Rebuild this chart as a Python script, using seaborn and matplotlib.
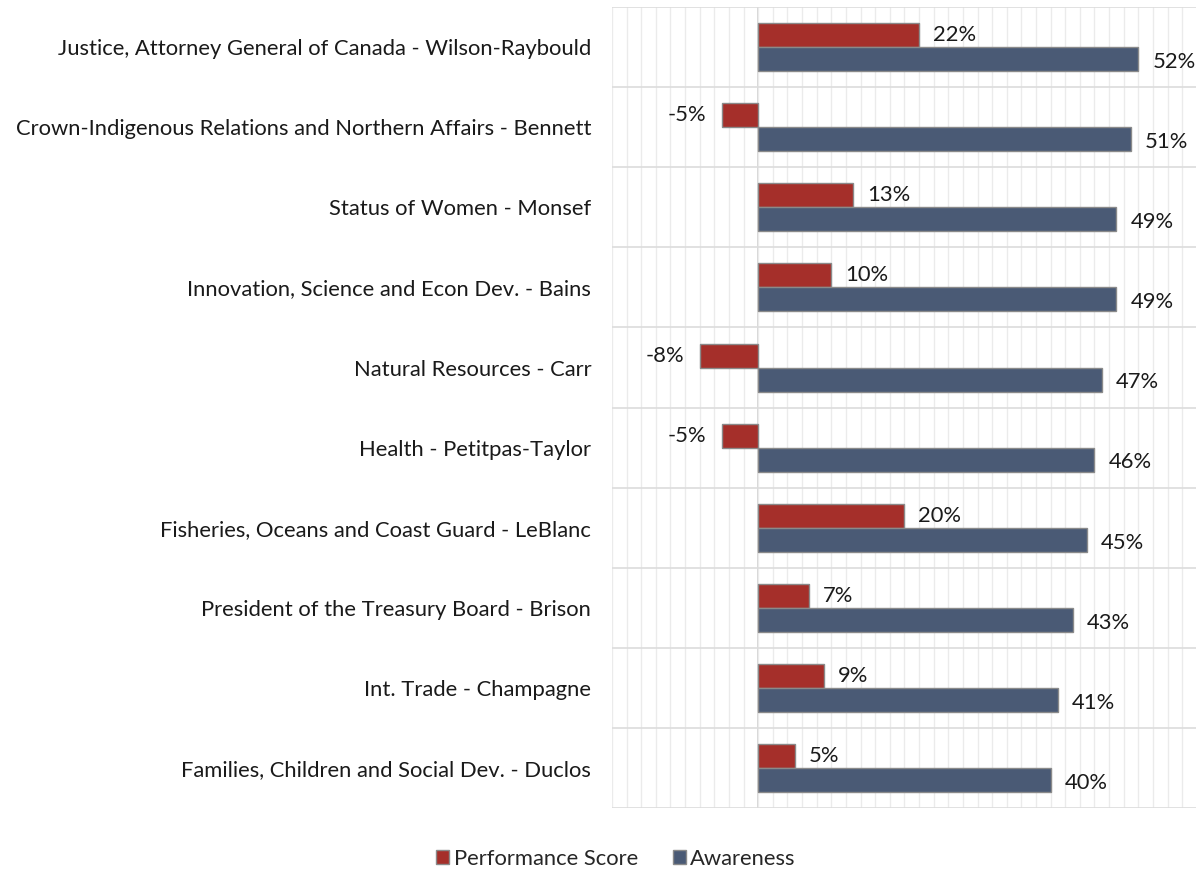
import pandas as pd
import matplotlib.pyplot as plt
import seaborn as sns
from matplotlib.ticker import MultipleLocator
from matplotlib.patches import Patch

ministers = [
    "Justice, Attorney General of Canada - Wilson-Raybould",
    "Crown-Indigenous Relations and Northern Affairs - Bennett",
    "Status of Women - Monsef",
    "Innovation, Science and Econ Dev. - Bains",
    "Natural Resources - Carr",
    "Health - Petitpas-Taylor",
    "Fisheries, Oceans and Coast Guard - LeBlanc",
    "President of the Treasury Board - Brison",
    "Int. Trade - Champagne",
    "Families, Children and Social Dev. - Duclos",
]
performance = [22, -5, 13, 10, -8, -5, 20, 7, 9, 5]
awareness = [52, 51, 49, 49, 47, 46, 45, 43, 41, 40]
series = ["Performance Score", "Awareness"]

df = pd.DataFrame({
    "Minister": ministers * 2,
    "Value": performance + awareness,
    "Series": [series[0]] * len(ministers) + [series[1]] * len(ministers),
})

sns.set_style("white")
plt.rcParams["font.family"] = ["Lato", "DejaVu Sans"]

red = "#A52F2A"
blue = "#4A5A75"
palette = {series[0]: red, series[1]: blue}
edges = {series[0]: "#8A8A8A", series[1]: "#8A8A8A"}
fs = 15.8

fig = plt.figure(figsize=(11.96, 8.71), dpi=100)
ax = fig.add_axes([0.5117, 0.072, 0.489, 0.920])

sns.barplot(data=df, y="Minister", x="Value", hue="Series", hue_order=series,
            palette=palette, orient="h", width=0.6, ax=ax, legend=False,
            saturation=1)

n = len(ministers)
for i, bar in enumerate(ax.patches[:2 * n]):
    bar.set_edgecolor(edges[series[i // n]])
    bar.set_linewidth(1.0)

ax.set_xlim(-20, 60)
ax.set_ylim(n - 0.5, -0.5)

# grid
ax.xaxis.set_major_locator(MultipleLocator(20))
ax.xaxis.set_minor_locator(MultipleLocator(2))
ax.grid(which="minor", axis="x", color="#EBEBEB", linewidth=1.0)
ax.grid(which="major", axis="x", color="#EBEBEB", linewidth=1.0)
ax.set_yticks([i + 0.5 for i in range(-1, n)], minor=True)
ax.grid(which="minor", axis="y", color="#DCDCDC", linewidth=1.2)
ax.axvline(0, color="#D4D4D4", linewidth=1.4, zorder=0.5)
ax.set_axisbelow(True)

for s in ax.spines.values():
    s.set_visible(False)

ax.set_xticklabels([])
ax.tick_params(axis="both", which="both", length=0)
ax.tick_params(axis="y", pad=15, labelsize=fs, labelcolor="#1A1A1A")
ax.set_xlabel("")
ax.set_ylabel("")

# value labels
for i, bar in enumerate(ax.patches[:2 * n]):
    val = performance[i] if i < n else awareness[i - n]
    yc = bar.get_y() + bar.get_height() / 2
    dy = 0 if i < n else -2
    if val >= 0:
        ax.annotate(f"{val}%", (val, yc), xytext=(10, dy), textcoords="offset points",
                    ha="left", va="center", fontsize=fs, color="#1A1A1A",
                    annotation_clip=False)
    else:
        ax.annotate(f"{val}%", (val, yc), xytext=(-11, dy), textcoords="offset points",
                    ha="right", va="center", fontsize=fs, color="#1A1A1A",
                    annotation_clip=False)

handles = [Patch(facecolor=palette[s], edgecolor=edges[s], label=s) for s in series]
fig.legend(handles=handles, loc="lower center", bbox_to_anchor=(0.515, -0.02),
           ncol=2, frameon=False, fontsize=fs, handlelength=0.6, handleheight=0.6,
           handletextpad=0.2, columnspacing=1.6)

fig.savefig("out.png", dpi=100)
